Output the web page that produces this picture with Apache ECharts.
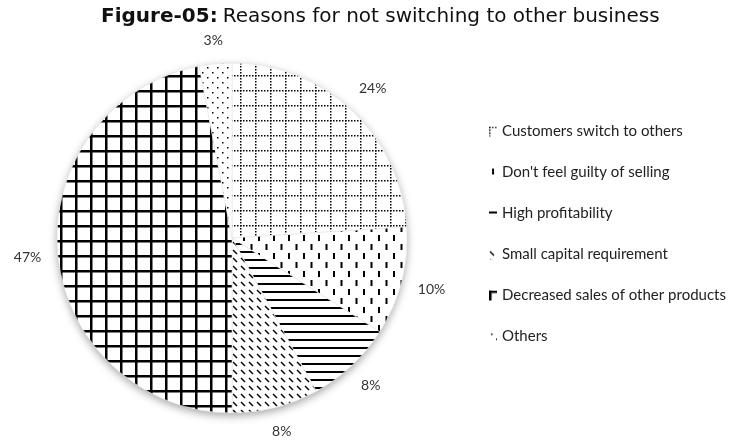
<!DOCTYPE html>
<html>
<head>
<meta charset="utf-8">
<script src="https://cdn.jsdelivr.net/npm/echarts@6/dist/echarts.min.js"></script>
<style>
  html, body { margin: 0; padding: 0; background: #fff; }
  #main { width: 729px; height: 444px; }
</style>
</head>
<body>
<div id="main"></div>
<script>
// reasons and their share (%)
let reasons = [
    'Customers switch to others',
    "Don't feel guilty of selling",
    'High profitability',
    'Small capital requirement',
    'Decreased sales of other products',
    'Others'
];
let shares = [24, 10, 8, 8, 47, 3];

let cx = 232, cy = 238, R = 175;

// black & white fill patterns, one per slice
function makeTile(w, h, draw) {
    let c = document.createElement('canvas');
    c.width = w;
    c.height = h;
    let ctx = c.getContext('2d');
    ctx.fillStyle = '#fff';
    ctx.fillRect(0, 0, w, h);
    ctx.fillStyle = '#000';
    ctx.strokeStyle = '#000';
    draw(ctx);
    return { image: c, repeat: 'repeat' };
}

let patterns = [
    // dotted grid
    makeTile(15, 15, ctx => {
        for (let i = 0; i < 15; i += 3) {
            ctx.fillRect(i, 0, 1.5, 1.5);
            ctx.fillRect(0, i, 1.5, 1.5);
        }
    }),
    // staggered vertical dashes
    makeTile(15, 18, ctx => {
        ctx.fillRect(3, 1, 2, 6);
        ctx.fillRect(10.5, 10, 2, 6);
    }),
    // horizontal lines
    makeTile(8, 8, ctx => {
        ctx.fillRect(0, 3, 8, 2);
    }),
    // short diagonal dashes
    makeTile(8, 8, ctx => {
        ctx.lineWidth = 1.4;
        ctx.beginPath();
        ctx.moveTo(1, 2);
        ctx.lineTo(5, 6);
        ctx.stroke();
    }),
    // solid grid
    makeTile(15, 15, ctx => {
        ctx.fillRect(0, 0, 2.5, 15);
        ctx.fillRect(0, 0, 15, 2.5);
    }),
    // sparse dots
    makeTile(10, 10, ctx => {
        ctx.fillRect(2, 2, 1.5, 1.5);
        ctx.fillRect(7, 7, 1.5, 1.5);
    })
];

// mid angle of each slice, clockwise from 12 o'clock
let total = shares.reduce((a, b) => a + b, 0);
let midAngles = [];
let acc = 0;
shares.forEach(v => {
    midAngles.push((acc + v / 2) / total * Math.PI * 2);
    acc += v;
});

let chart = echarts.init(document.getElementById('main'));

let option = {
    backgroundColor: '#fff',
    animation: false,
    title: {
        text: '{b|Figure-05:} {n|Reasons for not switching to other business}',
        left: 96,
        top: 2,
        textStyle: {
            rich: {
                b: { fontFamily: 'DejaVu Sans', fontWeight: 'bold', fontSize: 20, color: '#111' },
                n: { fontFamily: 'DejaVu Sans', fontWeight: 'normal', fontSize: 20, color: '#111' }
            }
        }
    },
    legend: {
        orient: 'vertical',
        left: 484,
        top: 119,
        itemWidth: 8,
        itemHeight: 10,
        itemGap: 26,
        icon: 'rect',
        itemStyle: { borderWidth: 0 },
        textStyle: { fontFamily: 'Lato', fontSize: 15, color: '#222' },
        data: reasons
    },
    series: [{
        // soft shadow under the pie
        type: 'pie',
        center: [cx, cy],
        radius: [0, R],
        silent: true,
        label: { show: false },
        labelLine: { show: false },
        itemStyle: {
            color: '#fff',
            shadowBlur: 8,
            shadowOffsetY: 3,
            shadowColor: 'rgba(0,0,0,0.35)'
        },
        data: [{ name: '', value: 1 }],
        z: 1
    }, {
        type: 'pie',
        center: [cx, cy],
        radius: [0, R],
        startAngle: 90,
        clockwise: true,
        label: {
            show: true,
            position: 'outside',
            formatter: '{c}%',
            fontFamily: 'Lato',
            fontSize: 14,
            color: '#333',
            overflow: 'none'
        },
        labelLine: { show: false },
        labelLayout: function (params) {
            let a = midAngles[params.dataIndex];
            let dx = Math.sin(a), dy = -Math.cos(a);
            let hw = params.labelRect.width / 2, hh = params.labelRect.height / 2;
            let d = R + 16 + Math.abs(dx) * hw + Math.abs(dy) * hh;
            return {
                x: cx + dx * d,
                y: cy + dy * d,
                align: 'center',
                verticalAlign: 'middle'
            };
        },
        itemStyle: { borderColor: '#e4e4e4', borderWidth: 0.6 },
        emphasis: { disabled: true },
        data: reasons.map((name, i) => ({
            name: name,
            value: shares[i],
            itemStyle: { color: patterns[i] }
        })),
        z: 2
    }]
};

chart.setOption(option);
</script>
</body>
</html>
